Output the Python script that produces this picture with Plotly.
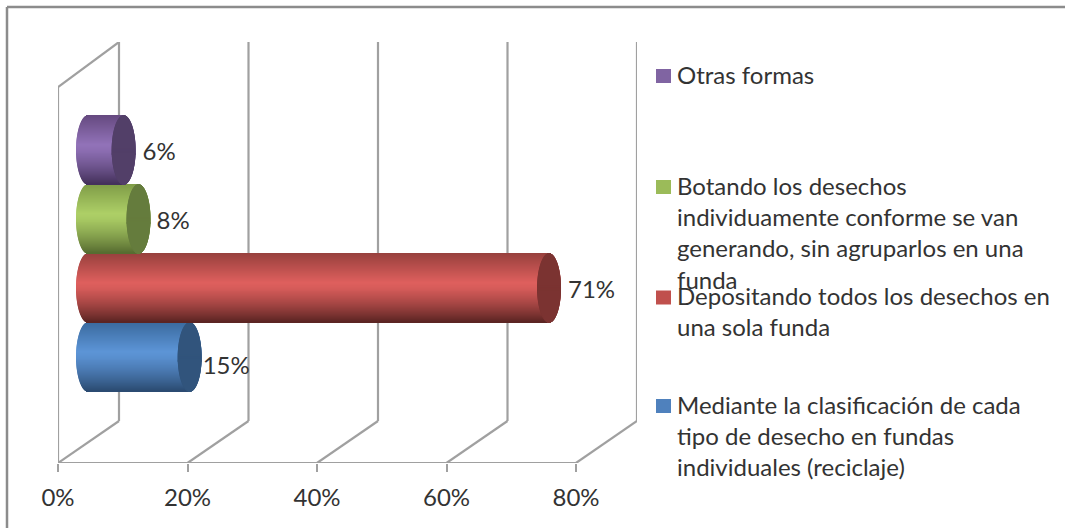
import math

import plotly.graph_objects as go

# series, bottom to top
CATEGORIES = [
    "Mediante la clasificación de cada<br>tipo de desecho en fundas<br>individuales (reciclaje)",
    "Depositando todos los desechos en<br>una sola funda",
    "Botando los desechos<br>individuamente conforme se van<br>generando, sin agruparlos en una<br>funda",
    "Otras formas",
]
# bar lengths, the labels are rounded
VALUES = [15.7, 71.2, 7.8, 5.5]
LABELS = ["15%", "71%", "8%", "6%"]
X_TICKS = [0, 20, 40, 60, 80]
X_TICK_LABELS = ["0%", "20%", "40%", "60%", "80%"]

# top of cylinder / highlight / bottom of cylinder, and the end cap colour
BAR_STOPS = [
    ("#3a6a9e", "#5c94d6", "#2a4a70"),
    ("#97403d", "#de5f5d", "#5a2422"),
    ("#7f9c47", "#adcf66", "#566b30"),
    ("#65497f", "#9172b8", "#43305a"),
]
CAP_COLORS = ["#31547c", "#7b3331", "#657c3d", "#523f68"]
LEGEND_COLORS = ["#4f81bd", "#c0504d", "#9bbb59", "#8064a2"]

LEGEND_Y = [403.5, 295, 184.5, 73.5]  # first line, px from top
LABEL_DY = [-0.16, -0.06, -0.06, -0.06]  # offset from the bar centre, in bar units
LABEL_DX = [1, 7, 6, 7]  # gap after the end cap, px

W, H = 1065, 528
PX_X0, PX_X1 = 58, 637  # 0% at the front, back wall right edge
PX_Y0, PX_Y1 = 463, 42
PX_PER_PCT = (576 - 58) / 80
PX_PER_BAR = 69
BLUE_CENTRE = 357

DEPTH = (119 - 58) / PX_PER_PCT
DEPTH_Y = (463 - 421) / PX_PER_BAR
LEFT_DROP = (87 - 42) / PX_PER_BAR
SHIFT = (88 - 58) / PX_PER_PCT  # bars sit mid-way into the floor
CAP_A = 12 / PX_PER_PCT
N_STRIPS = 70

y_bottom = -(PX_Y0 - BLUE_CENTRE) / PX_PER_BAR
y_top = y_bottom + (PX_Y0 - PX_Y1) / PX_PER_BAR
x_max = (PX_X1 - PX_X0) / PX_PER_PCT


def hex_rgb(c):
    return [int(c[i : i + 2], 16) for i in (1, 3, 5)]


def shade(stops, t):
    top, mid, low = [hex_rgb(s) for s in stops]
    if t < 0.42:
        a, b, f = top, mid, t / 0.42
    else:
        a, b, f = mid, low, ((t - 0.42) / 0.58) ** 1.4
    return "rgb({},{},{})".format(*[round(p + (q - p) * f) for p, q in zip(a, b)])


def strip_arrays(cat):
    ys, half = [], []
    for i in range(N_STRIPS):
        t = (i + 0.5) / N_STRIPS
        ys.append(cat + 0.5 - t)
        half.append(CAP_A * math.sqrt(1 - (2 * t - 1) ** 2))
    return ys, half


fig = go.Figure()

for cat, value in enumerate(VALUES):
    ys, half = strip_arrays(cat)
    colors = [shade(BAR_STOPS[cat], (i + 0.5) / N_STRIPS) for i in range(N_STRIPS)]
    # cylinder body
    fig.add_trace(
        go.Bar(
            y=ys,
            x=[value + 2 * h for h in half],
            base=[SHIFT - h for h in half],
            width=1.15 / N_STRIPS,
            orientation="h",
            marker={"color": colors, "line": {"width": 0}},
            showlegend=False,
        )
    )
    # end cap
    fig.add_trace(
        go.Bar(
            y=ys,
            x=[2 * h for h in half],
            base=[SHIFT + value - h for h in half],
            width=1.15 / N_STRIPS,
            orientation="h",
            marker={"color": CAP_COLORS[cat], "line": {"width": 0}},
            showlegend=False,
        )
    )

fig.add_trace(
    go.Scatter(
        x=[SHIFT + v + CAP_A + dx / PX_PER_PCT for v, dx in zip(VALUES, LABEL_DX)],
        y=[c + o for c, o in zip(range(len(VALUES)), LABEL_DY)],
        mode="text",
        text=LABELS,
        textposition="middle right",
        textfont={"size": 24, "color": "#333333"},
        showlegend=False,
    )
)

# 3D walls and floor
GRID = "#a0a0a0"
FRAME = "#8c8c8c"
shapes = []


def wall_line(x0, y0, x1, y1, xref="x", yref="y", color=GRID, width=2.2):
    shapes.append(
        {
            "type": "line",
            "xref": xref,
            "yref": yref,
            "x0": x0,
            "y0": y0,
            "x1": x1,
            "y1": y1,
            "layer": "below",
            "line": {"color": color, "width": width},
        }
    )


for tick in X_TICKS:
    wall_line(tick + DEPTH, y_bottom + DEPTH_Y, tick + DEPTH, y_top)
    wall_line(tick, y_bottom, tick + DEPTH, y_bottom + DEPTH_Y)
wall_line(0, y_bottom, 0, y_top - LEFT_DROP)
wall_line(0, y_top - LEFT_DROP, DEPTH, y_top)
wall_line(0, y_bottom, X_TICKS[-1], y_bottom)

# outer frame of the chart area: top and left only, the rest is cropped
for x0, y0, x1, y1 in [(7, 7, W, 7), (7, 7, 7, H)]:
    wall_line(x0 / W, 1 - y0 / H, x1 / W, 1 - y1 / H, "paper", "paper", FRAME, 2.5)

annotations = []
for name, color, top in zip(CATEGORIES, LEGEND_COLORS, LEGEND_Y):
    shapes.append(
        {
            "type": "rect",
            "xref": "paper",
            "yref": "paper",
            "x0": 656 / W,
            "x1": 671 / W,
            "y0": 1 - (top - 4.5) / H,
            "y1": 1 - (top + 9.5) / H,
            "fillcolor": color,
            "line": {"width": 0},
        }
    )
    annotations.append(
        {
            "xref": "paper",
            "yref": "paper",
            "x": 675 / W,
            "y": 1 - (top - 16) / H,
            "xanchor": "left",
            "yanchor": "top",
            "align": "left",
            "showarrow": False,
            "text": name,
            "font": {"size": 24, "color": "#333333"},
        }
    )

fig.update_layout(
    width=W,
    height=H,
    barmode="overlay",
    paper_bgcolor="white",
    plot_bgcolor="white",
    font={"family": "Lato, sans-serif", "size": 24, "color": "#333333"},
    margin={"l": 0, "r": 0, "t": 0, "b": 0},
    showlegend=False,
    shapes=shapes,
    annotations=annotations,
    xaxis={
        "domain": [PX_X0 / W, PX_X1 / W],
        "range": [0, x_max],
        "tickvals": X_TICKS,
        "ticktext": X_TICK_LABELS,
        "ticks": "outside",
        "ticklen": 8,
        "tickwidth": 2,
        "tickcolor": GRID,
        "ticklabelstandoff": 5,
        "showgrid": False,
        "zeroline": False,
        "showline": False,
        "automargin": False,
    },
    yaxis={
        "domain": [1 - PX_Y0 / H, 1 - PX_Y1 / H],
        "range": [y_bottom, y_top],
        "visible": False,
        "automargin": False,
    },
)

fig.write_html(
    "out.html",
    config={"displayModeBar": False},
    post_script="document.body.style.margin = '0';",
)
